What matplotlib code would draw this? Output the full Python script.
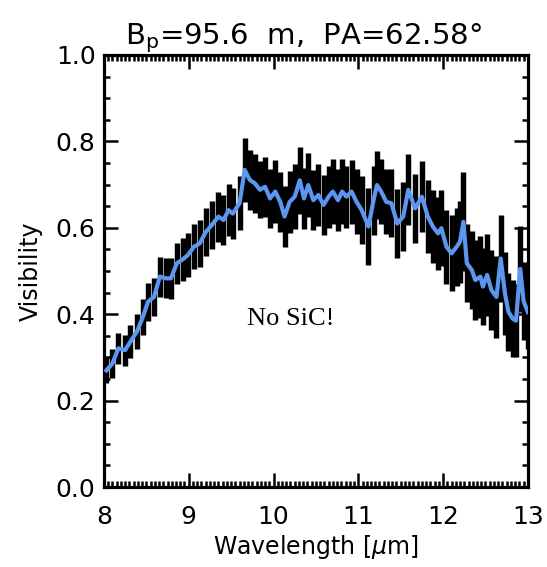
import matplotlib
matplotlib.use('Agg')
from matplotlib import ticker
import matplotlib.pyplot as plt
import numpy as np

# wavelength [um]
wl = [8.03, 8.10, 8.17, 8.25, 8.31, 8.39, 8.46, 8.52, 8.59, 8.66,
      8.73, 8.79, 8.86, 8.93, 8.99, 9.06, 9.13, 9.20, 9.27, 9.35,
      9.41, 9.47, 9.52, 9.60, 9.66, 9.72, 9.78, 9.84, 9.90, 9.96,
      10.02, 10.08, 10.13, 10.19, 10.25, 10.31, 10.36, 10.41, 10.47, 10.53,
      10.59, 10.65, 10.70, 10.76, 10.81, 10.86, 10.92, 10.98, 11.04, 11.12,
      11.18, 11.22, 11.27, 11.33, 11.39, 11.46, 11.53, 11.59, 11.67, 11.75,
      11.82, 11.88, 11.94, 11.98, 12.04, 12.10, 12.16, 12.20, 12.24, 12.28,
      12.34, 12.38, 12.44, 12.47, 12.52, 12.57, 12.63, 12.68, 12.73, 12.77,
      12.82, 12.86, 12.91, 12.95, 13.00]

vis = [0.270, 0.286, 0.321, 0.317, 0.336, 0.360, 0.394, 0.429, 0.440, 0.487,
       0.483, 0.483, 0.518, 0.527, 0.537, 0.556, 0.564, 0.590, 0.606, 0.626,
       0.618, 0.641, 0.633, 0.657, 0.734, 0.711, 0.703, 0.688, 0.695, 0.668,
       0.684, 0.660, 0.626, 0.660, 0.672, 0.710, 0.668, 0.699, 0.664, 0.676,
       0.653, 0.672, 0.684, 0.664, 0.684, 0.672, 0.684, 0.660, 0.641, 0.603,
       0.664, 0.699, 0.684, 0.660, 0.657, 0.610, 0.626, 0.688, 0.645, 0.672,
       0.626, 0.603, 0.587, 0.599, 0.556, 0.541, 0.556, 0.568, 0.614, 0.518,
       0.502, 0.479, 0.487, 0.464, 0.491, 0.456, 0.440, 0.529, 0.448, 0.406,
       0.390, 0.385, 0.505, 0.430, 0.405]

err = [0.030, 0.034, 0.036, 0.036, 0.038, 0.040, 0.042, 0.044, 0.044, 0.046,
       0.046, 0.048, 0.048, 0.050, 0.050, 0.052, 0.054, 0.056, 0.056, 0.058,
       0.058, 0.060, 0.060, 0.062, 0.075, 0.070, 0.068, 0.066, 0.070, 0.068,
       0.072, 0.070, 0.070, 0.072, 0.075, 0.078, 0.070, 0.075, 0.070, 0.072,
       0.070, 0.072, 0.075, 0.072, 0.075, 0.072, 0.074, 0.075, 0.078, 0.090,
       0.080, 0.078, 0.075, 0.075, 0.078, 0.080, 0.080, 0.082, 0.080, 0.082,
       0.085, 0.085, 0.085, 0.088, 0.085, 0.088, 0.090, 0.095, 0.115, 0.090,
       0.090, 0.092, 0.095, 0.090, 0.095, 0.092, 0.095, 0.100, 0.095, 0.090,
       0.090, 0.085, 0.100, 0.090, 0.085]

fig = plt.figure(figsize=(5.47, 5.67), dpi=100)
ax = fig.add_axes([0.190, 0.141, 0.775, 0.762])

ax.errorbar(wl, vis, yerr=err, fmt='none', ecolor='black', elinewidth=3.9, capsize=0, zorder=2)
ax.plot(wl, vis, color='#5b96f0', lw=3.0, zorder=3)

ax.set_xlim(8, 13)
ax.set_ylim(0, 1.0)
ax.xaxis.set_major_locator(ticker.MultipleLocator(1))
ax.xaxis.set_minor_locator(ticker.MultipleLocator(0.05))
ax.yaxis.set_major_locator(ticker.MultipleLocator(0.2))
ax.yaxis.set_minor_locator(ticker.MultipleLocator(0.05))
ax.yaxis.set_major_formatter(ticker.FormatStrFormatter('%.1f'))

for s in ax.spines.values():
    s.set_linewidth(2.3)
ax.tick_params(which='both', direction='in', top=True, right=True, width=1.8, labelsize=18)
ax.tick_params(axis='x', pad=13)
ax.tick_params(axis='y', pad=6)
ax.tick_params(which='major', length=10)
ax.tick_params(which='minor', length=4)

ax.set_xlabel('Wavelength [$\\mu$m]', fontsize=17, labelpad=3)
ax.set_ylabel('Visibility', fontsize=17, labelpad=9)
ax.set_title('B$_\\mathregular{p}$=95.6  m,  PA=62.58°', fontsize=21, pad=6, x=0.47)

ax.text(10.2, 0.39, 'No SiC!', family='Liberation Serif', fontsize=19, ha='center', va='center')

fig.savefig('out.png', dpi=100)
